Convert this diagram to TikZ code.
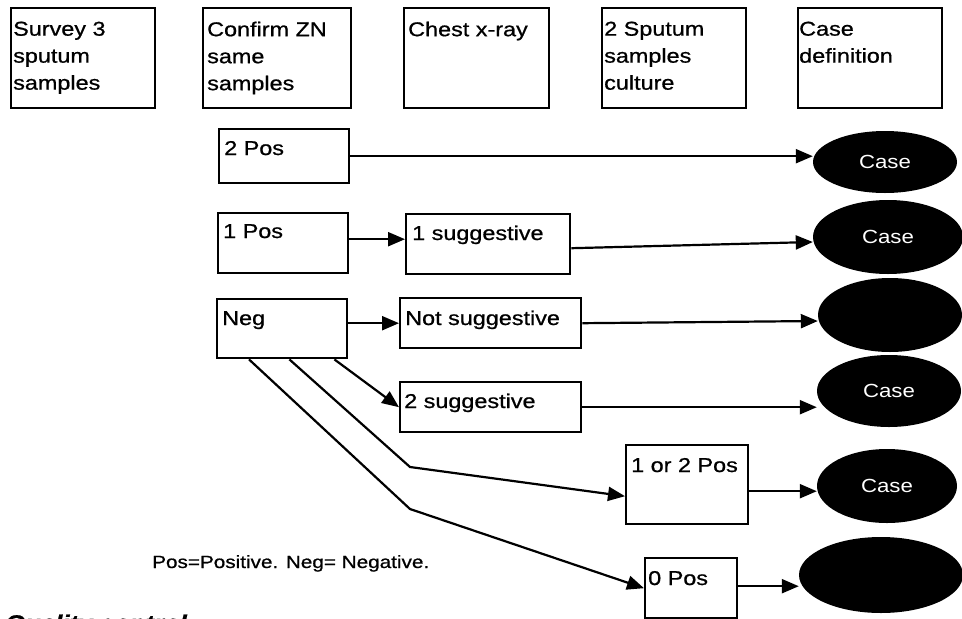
\documentclass[tikz,border=0pt]{standalone}
\usepackage{fontspec}
\setmainfont[FakeStretch=1.17,FakeBold=0.8]{Liberation Sans}
\newfontfamily\casefont[FakeStretch=1.17]{Liberation Sans}
\usetikzlibrary{arrows.meta,shapes.geometric}
\begin{document}
\begin{tikzpicture}[x=1pt,y=-1pt,
  boxst/.style={draw, line width=2.4pt, anchor=north west, inner sep=0},
  txt/.style={inner sep=0, font=\fontsize{20}{27}\selectfont},
  htxt/.style={txt, anchor=north west, align=left},
  btxt/.style={txt, anchor=base west},
  oval/.style={ellipse, fill=black, inner sep=0, text=white, font=\casefont\fontsize{19}{20}\selectfont},
  arr/.style={line width=2.2pt, -{Triangle[length=17pt,width=14pt]}},
  ln/.style={line width=2.2pt}]
\clip (0,0) rectangle (962,619);
\fill[white] (0,0) rectangle (962,619);

% header boxes
\node[boxst, minimum width=144pt, minimum height=100pt] (h1) at (10,7) {};
\node[boxst, minimum width=148pt, minimum height=100pt] (h2) at (202,7) {};
\node[boxst, minimum width=145pt, minimum height=100pt] (h3) at (403,7) {};
\node[boxst, minimum width=144pt, minimum height=100pt] (h4) at (601,7) {};
\node[boxst, minimum width=144pt, minimum height=100pt] (h5) at (797,7) {};
\node[htxt] (h1t) at (13,21.5) {Survey 3\\sputum\\samples};
\node[htxt] (h2t) at (207,21.5) {Confirm ZN\\same\\samples};
\node[htxt] (h3t) at (408,21.5) {Chest x-ray};
\node[htxt] (h4t) at (604,21.5) {2 Sputum\\samples\\culture};
\node[htxt] (h5t) at (799,21.5) {Case\\definition};

% row boxes
\node[boxst, minimum width=130pt, minimum height=54pt] (pos2) at (218,128) {};
\node[btxt] (pos2t) at (224,155) {2 Pos};
\node[boxst, minimum width=130pt, minimum height=60pt] (pos1) at (217,212) {};
\node[btxt] (pos1t) at (223,238) {1 Pos};
\node[boxst, minimum width=130pt, minimum height=59pt] (neg) at (216,298) {};
\node[btxt] (negt) at (222,325) {Neg};
\node[boxst, minimum width=164pt, minimum height=60pt] (sug1) at (405,213) {};
\node[btxt] (sug1t) at (412,240) {1 suggestive};
\node[boxst, minimum width=181pt, minimum height=50pt] (notsug) at (399,297) {};
\node[btxt] (notsugt) at (405,325) {Not suggestive};
\node[boxst, minimum width=181pt, minimum height=50pt] (sug2) at (399,381) {};
\node[btxt] (sug2t) at (404,408) {2 suggestive};
\node[boxst, minimum width=122pt, minimum height=79pt] (pos12) at (625,444) {};
\node[btxt] (pos12t) at (631,472) {1 or 2 Pos};
\node[boxst, minimum width=92pt, minimum height=60pt] (pos0) at (644,557) {};
\node[btxt] (pos0t) at (648,585) {0 Pos};

% ellipses
\node[oval, minimum width=144pt, minimum height=62pt] (e1) at (885,162) {Case};
\node[oval, minimum width=150pt, minimum height=74pt] (e2) at (888,237) {Case};
\node[oval, minimum width=144pt, minimum height=74pt] (e3) at (890,315) {};
\node[oval, minimum width=144pt, minimum height=72pt] (e4) at (889,391) {Case};
\node[oval, minimum width=140pt, minimum height=74pt] (e5) at (887,486) {Case};
\node[oval, minimum width=164pt, minimum height=76pt] (e6) at (881,575) {};

% connectors
\draw[arr] (pos2.east) -- (pos2.east -| e1.west);
\draw[arr] ([yshift=4pt]pos1.east) -- ([yshift=4pt]pos1.east -| sug1.west);
\draw[arr] ([yshift=-4pt]sug1.east) -- ([yshift=-5pt]e2.west);
\draw[arr] (neg.east |- notsug.west) -- (notsug.west);
\draw[arr] (notsug.east) -- ([yshift=-6pt]e3.west);
\draw[arr] ([xshift=-14pt]neg.south east) -- (sug2.west);
\draw[arr] (sug2.east) -- (sug2.east -| e4.west);
\coordinate (b1) at (410,467);
\coordinate (b2) at (410,509);
\draw[arr, line join=miter] ([xshift=-59pt]neg.south east) -- (b1) -- ([yshift=-11.5pt]pos12.west);
\draw[arr, line join=miter] ([xshift=33pt]neg.south west) -- (b2) -- (pos0.west);
\draw[arr] ([yshift=-6.5pt]pos12.east) -- ([yshift=-6.5pt]pos12.east -| e5.west);
\draw[arr] ([yshift=2pt]pos0.east) -- ([yshift=2pt]pos0.east -| e6.west);

% texts
\node[anchor=base west, inner sep=0, font=\fontsize{17.7}{20}\selectfont] (foot) at (152,568) {Pos=Positive. Neg= Negative.};
\node[anchor=base west, inner sep=0, font=\fontsize{22}{26}\selectfont\bfseries\itshape] (qc) at (5,630.5) {Quality control};
\end{tikzpicture}
\end{document}
